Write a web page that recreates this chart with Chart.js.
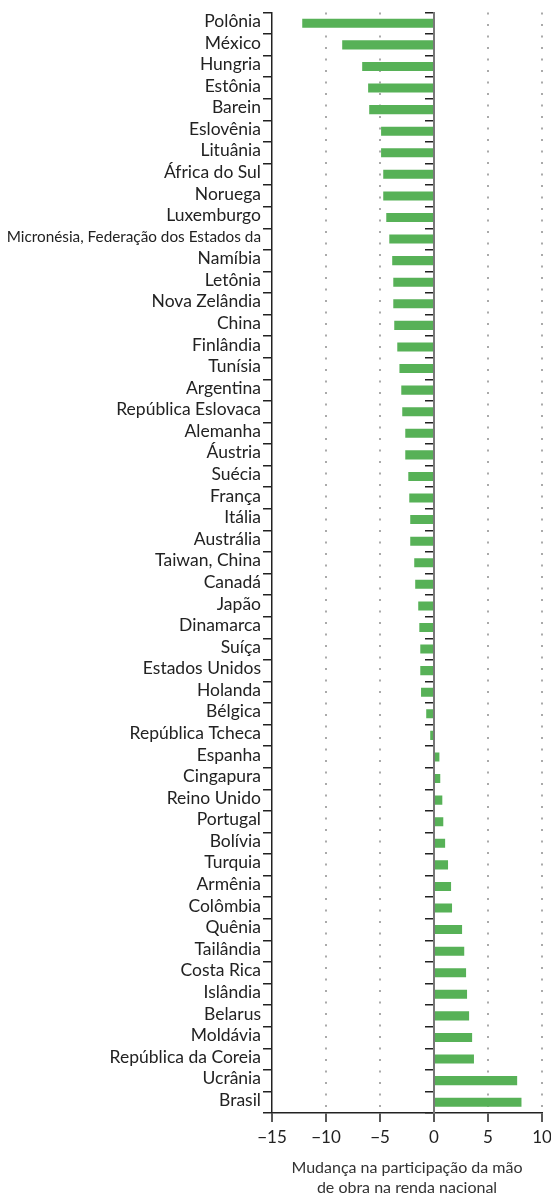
<!DOCTYPE html>
<html>
<head>
<meta charset="utf-8">
<script src="https://cdn.jsdelivr.net/npm/chart.js@4.4.1/dist/chart.umd.min.js"></script>
<style>
  body { margin: 0; background: #fff; }
  #wrap { width: 551px; height: 1197px; position: relative; }
</style>
</head>
<body>
<div id="wrap"><canvas id="grafico"></canvas></div>
<script>
const paises = [
  "Polônia", "México", "Hungria", "Estônia", "Barein", "Eslovênia", "Lituânia",
  "África do Sul", "Noruega", "Luxemburgo", "Micronésia, Federação dos Estados da",
  "Namíbia", "Letônia", "Nova Zelândia", "China", "Finlândia", "Tunísia", "Argentina",
  "República Eslovaca", "Alemanha", "Áustria", "Suécia", "França", "Itália", "Austrália",
  "Taiwan, China", "Canadá", "Japão", "Dinamarca", "Suíça", "Estados Unidos", "Holanda",
  "Bélgica", "República Tcheca", "Espanha", "Cingapura", "Reino Unido", "Portugal",
  "Bolívia", "Turquia", "Armênia", "Colômbia", "Quênia", "Tailândia", "Costa Rica",
  "Islândia", "Belarus", "Moldávia", "República da Coreia", "Ucrânia", "Brasil"
];

const mudanca = [
  -12.2, -8.5, -6.65, -6.1, -6.0, -4.9, -4.9,
  -4.7, -4.7, -4.42, -4.14,
  -3.87, -3.77, -3.77, -3.68, -3.4, -3.2, -3.03,
  -2.94, -2.66, -2.66, -2.38, -2.29, -2.2, -2.2,
  -1.83, -1.74, -1.46, -1.36, -1.27, -1.27, -1.2,
  -0.72, -0.35, 0.5, 0.58, 0.77, 0.86,
  1.03, 1.3, 1.58, 1.67, 2.6, 2.8, 2.97,
  3.06, 3.25, 3.53, 3.7, 7.7, 8.1
];

const ticksX = [-15, -10, -5, 0, 5, 10];
const tituloX = ["Mudança na participação da mão", "de obra na renda nacional"];

const fonte = "Lato, 'Open Sans', sans-serif";

new Chart(document.getElementById("grafico"), {
  type: 'bar',
  data: {
    labels: paises,
    datasets: [{
      data: mudanca,
      backgroundColor: "#57b157",
      borderWidth: 0,
      barPercentage: 0.42,
      categoryPercentage: 1.0
    }]
  },
  options: {
    indexAxis: 'y',
    responsive: true,
    maintainAspectRatio: false,
    animation: false,
    layout: { padding: { top: 8, right: 9, left: 0, bottom: 0 } },
    plugins: {
      legend: { display: false },
      tooltip: { enabled: false }
    },
    scales: {
      x: {
        type: 'linear',
        min: -15,
        max: 10,
        afterBuildTicks: scale => { scale.ticks = ticksX.map(v => ({ value: v })); },
        afterFit: scale => {
          scale.height = 84;
          scale.paddingLeft = 0;
          scale.paddingRight = 0;
        },
        border: { display: true, color: "#222", width: 1.5, dash: [2, 9.5] },
        grid: {
          color: ctx => (ctx.tick && (ctx.tick.value === 0 || ctx.tick.value === -15)) ? "rgba(0,0,0,0)" : "#aaa",
          lineWidth: 2,
          drawTicks: true,
          tickLength: 9,
          tickColor: "#222",
          tickWidth: 1.5,
          tickBorderDash: []
        },
        ticks: {
          color: "#222",
          font: { family: fonte, size: 17 },
          padding: 5,
          callback: v => String(v).replace("-", "\u2212")
        },
        title: {
          display: true,
          text: tituloX,
          color: "#333",
          font: { family: fonte, size: 16, lineHeight: 1.2 },
          padding: { top: 0, bottom: 0 }
        }
      },
      y: {
        type: 'category',
        offset: true,
        afterFit: scale => { scale.width = 272; },
        border: { display: true, color: "#222", width: 1.5 },
        grid: {
          offset: true,
          drawOnChartArea: false,
          drawTicks: true,
          tickLength: 9,
          color: "#222",
          lineWidth: 1.5
        },
        ticks: {
          color: "#222",
          autoSkip: false,
          padding: 2,
          labelOffset: -2,
          font: ctx => ({
            family: fonte,
            size: paises[ctx.index] && paises[ctx.index].length > 25 ? 15.3 : 17.5
          })
        }
      },
      y2: {
        type: 'category',
        axis: 'y',
        position: { x: 0 },
        offset: true,
        border: { display: true, color: "#777", width: 2 },
        grid: {
          offset: true,
          drawOnChartArea: false,
          drawTicks: true,
          tickLength: 8,
          color: "#222",
          lineWidth: 1.5
        },
        ticks: { display: false }
      }
    }
  }
});
</script>
</body>
</html>
